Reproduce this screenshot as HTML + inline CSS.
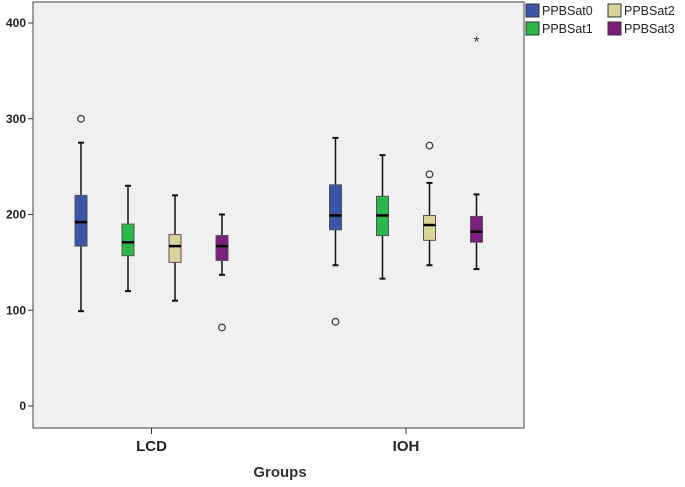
<!DOCTYPE html>
<html><head><meta charset="utf-8"><style>
body{margin:0;background:#fff;width:685px;height:482px;overflow:hidden;font-family:"Liberation Sans",sans-serif}
</style></head><body>
<svg width="685" height="482" id="chart">
<rect x="33" y="2" width="491" height="426" fill="#f0f0f0" stroke="#444" stroke-width="1"/>
</svg>
<script>
const groups=["LCD","IOH"];
const series=["PPBSat0","PPBSat1","PPBSat2","PPBSat3"];
const colors=["#3a55a8","#2bb84a","#d8d49c","#7c1f7c"];
// [low whisker, q1, median, q3, high whisker]
const lcdStats=[[99,167,192,220,275],[120,157,171,190,230],[110,150,167,179,220],[137,152,167,178,200]];
const iohStats=[[147,184,199,231,280],[133,178,199,219,262],[147,173,189,199,233],[143,171,182,198,221]];
const lcdOutliers=[[300],[],[],[82]];
const iohOutliers=[[88],[],[242,272],[]];
const iohExtremes=[[],[],[],[383]];
const yTicks=[0,100,200,300,400];
const stats=[lcdStats,iohStats],outs=[lcdOutliers,iohOutliers],extr=[[[],[],[],[]],iohExtremes];
const NS="http://www.w3.org/2000/svg",svg=document.getElementById("chart");
const y=v=>406-v*0.9575;
const gx=g=>151.5+g*254.5;
const bx=(g,s)=>gx(g)+(s-1.5)*47;
function el(t,a,p){const e=document.createElementNS(NS,t);for(const k in a)e.setAttribute(k,a[k]);(p||svg).appendChild(e);return e;}
yTicks.forEach(t=>{
 const l=el("line",{x1:28,x2:33,y1:y(t),y2:y(t),stroke:"#333"});
 
 
 const tx=el("text",{x:26,y:y(t)+4,"text-anchor":"end","font-size":"12","font-weight":"bold",fill:"#222"});
 tx.textContent=t;
 
 
});
groups.forEach((g,gi)=>{
 const l=el("line",{x1:gx(gi),x2:gx(gi),y1:428,y2:434,stroke:"#333"});
 
 
 const tx=el("text",{x:gx(gi),y:451,"text-anchor":"middle","font-size":"15","font-weight":"bold",fill:"#222"});
 tx.textContent=g;
 
 
 series.forEach((s,si)=>{
  const st=stats[gi][si],cx=bx(gi,si),w=12;
  const grp=el("g",{});
  
  
  el("line",{x1:cx,x2:cx,y1:y(st[0]),y2:y(st[4]),stroke:"#111","stroke-width":1.5},grp);
  el("line",{x1:cx-3,x2:cx+3,y1:y(st[0]),y2:y(st[0]),stroke:"#111","stroke-width":2},grp);
  el("line",{x1:cx-3,x2:cx+3,y1:y(st[4]),y2:y(st[4]),stroke:"#111","stroke-width":2},grp);
  el("rect",{x:cx-w/2,y:y(st[3]),width:w,height:y(st[1])-y(st[3]),fill:colors[si],stroke:"#555"},grp);
  el("line",{x1:cx-w/2,x2:cx+w/2,y1:y(st[2]),y2:y(st[2]),stroke:"#000","stroke-width":2.5},grp);
  outs[gi][si].forEach(v=>{
   const c=el("circle",{cx:cx,cy:y(v),r:3.3,fill:"none",stroke:"#444","stroke-width":1.3});
   
   
  });
  extr[gi][si].forEach(v=>{
   const t=el("text",{x:cx,y:y(v)+7,"text-anchor":"middle","font-size":"15",fill:"#333"});
   t.textContent="*";
   
   
  });
 });
});
const xt=el("text",{x:280,y:477,"text-anchor":"middle","font-size":"15","font-weight":"bold",fill:"#333"});
xt.textContent="Groups";


series.forEach((s,si)=>{
 const lx=526+(si>>1)*82,ly=4+(si&1)*18;
 const g=el("g",{});
 
 
 el("rect",{x:lx,y:ly,width:13,height:13,fill:colors[si],stroke:"#333"},g);
 const t=el("text",{x:lx+16,y:ly+11,"font-size":"12.5",fill:"#222"},g);
 t.textContent=s;
});
</script>
</body></html>
